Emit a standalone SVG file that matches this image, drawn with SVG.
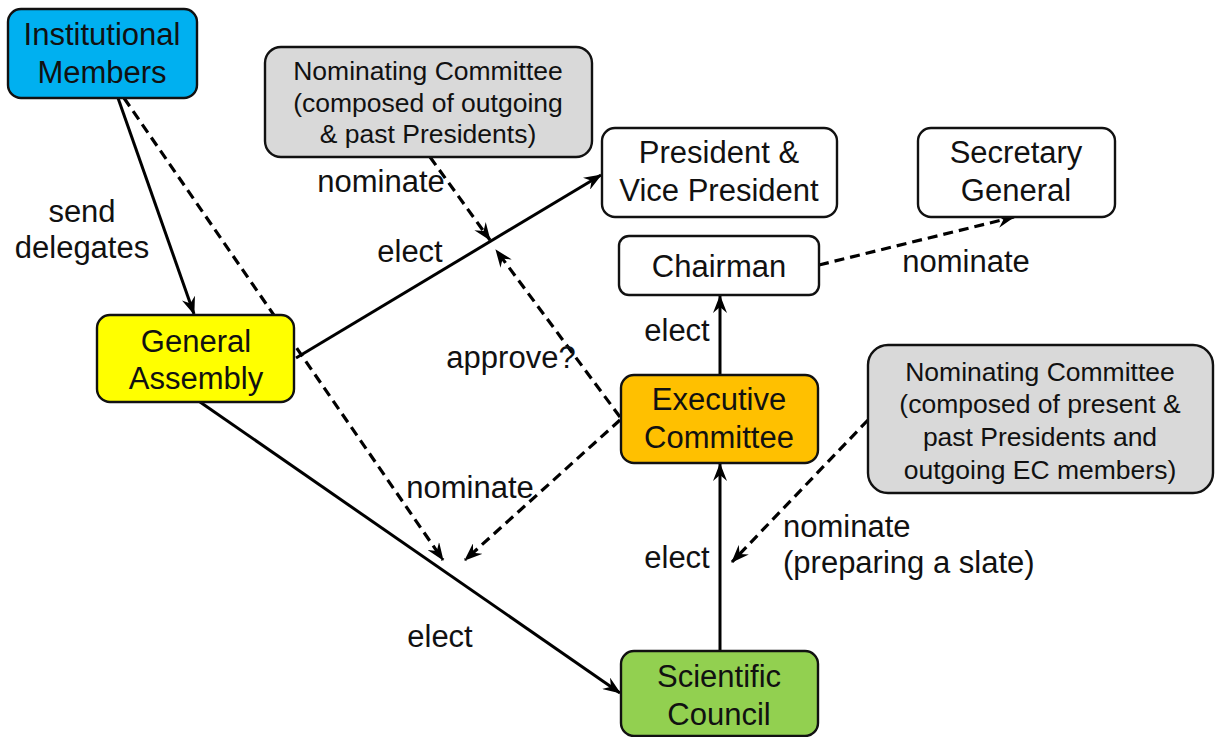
<svg xmlns="http://www.w3.org/2000/svg" width="1215" height="737" viewBox="0 0 1215 737">
<style>
  text { font-family: "Liberation Sans", Arial, sans-serif; fill: #111; }
  .big { font-size: 31px; text-anchor: middle; }
  .small { font-size: 26.5px; text-anchor: middle; }
  .lbl { font-size: 31px; }
  .box { stroke: #111; stroke-width: 2.4; }
  .ln { stroke: #000; stroke-width: 3; fill: none; marker-end: url(#ah); }
  .dash { stroke-dasharray: 10 6; stroke-width: 3.2; }
</style>
<defs>
  <marker id="ah" viewBox="0 0 18 14" markerWidth="18" markerHeight="14" refX="17" refY="7" orient="auto" markerUnits="userSpaceOnUse">
    <path d="M0,0 L18,7 L0,14 L6,7 z" fill="#000"/>
  </marker>
</defs>
<rect width="1215" height="737" fill="#fff"/>
<g id="connectors">
  <line class="ln" x1="118" y1="98" x2="194" y2="314"/>
  <line class="ln dash" x1="124" y1="98" x2="443" y2="560"/>
  <line class="ln" x1="296" y1="358" x2="601" y2="175"/>
  <line class="ln dash" x1="430" y1="157" x2="490" y2="240"/>
  <line class="ln dash" x1="620" y1="417" x2="496" y2="250"/>
  <line class="ln dash" x1="620" y1="420" x2="465" y2="560"/>
  <line class="ln" x1="200" y1="402" x2="620" y2="693"/>
  <line class="ln" x1="720" y1="651" x2="720" y2="464"/>
  <line class="ln" x1="720" y1="375" x2="720" y2="296"/>
  <line class="ln dash" x1="819" y1="265" x2="1014" y2="217"/>
  <line class="ln dash" x1="868" y1="420" x2="732" y2="562"/>
  <g id="labels">
    <text class="lbl" x="82" y="222" text-anchor="middle">send</text>
    <text class="lbl" x="82" y="258" text-anchor="middle">delegates</text>
    <text class="lbl" x="381" y="192" text-anchor="middle">nominate</text>
    <text class="lbl" x="410" y="262" text-anchor="middle">elect</text>
    <text class="lbl" x="677" y="341" text-anchor="middle">elect</text>
    <text class="lbl" x="966" y="272" text-anchor="middle">nominate</text>
    <text class="lbl" x="511" y="368" text-anchor="middle">approve?</text>
    <text class="lbl" x="470" y="498" text-anchor="middle">nominate</text>
    <text class="lbl" x="440" y="647" text-anchor="middle">elect</text>
    <text class="lbl" x="677" y="568" text-anchor="middle">elect</text>
    <text class="lbl" x="783" y="537">nominate</text>
    <text class="lbl" x="783" y="573">(preparing a slate)</text>
  </g>
</g>
<g id="institutional-members">
  <rect class="box" x="8" y="9" width="189" height="89" rx="13" fill="#00B0F0"/>
  <text class="big" x="102" y="45">Institutional</text>
  <text class="big" x="102" y="83">Members</text>
</g>
<g id="nominating-committee-1">
  <rect class="box" x="265" y="47" width="327" height="110" rx="16" fill="#D9D9D9"/>
  <text class="small" x="428" y="80">Nominating Committee</text>
  <text class="small" x="428" y="112">(composed of outgoing</text>
  <text class="small" x="428" y="143">&amp; past Presidents)</text>
</g>
<g id="president">
  <rect class="box" x="602" y="128" width="235" height="89" rx="13" fill="#fff"/>
  <text class="big" x="719" y="163">President &amp;</text>
  <text class="big" x="719" y="201">Vice President</text>
</g>
<g id="secretary-general">
  <rect class="box" x="918" y="128" width="197" height="89" rx="13" fill="#fff"/>
  <text class="big" x="1016" y="163">Secretary</text>
  <text class="big" x="1016" y="201">General</text>
</g>
<g id="chairman">
  <rect class="box" x="619" y="236" width="200" height="59" rx="10" fill="#fff"/>
  <text class="big" x="719" y="277">Chairman</text>
</g>
<g id="general-assembly">
  <rect class="box" x="97" y="315" width="197" height="87" rx="13" fill="#FFFF00"/>
  <text class="big" x="196" y="352">General</text>
  <text class="big" x="196" y="389">Assembly</text>
</g>
<g id="executive-committee">
  <rect class="box" x="621" y="375" width="197" height="88" rx="13" fill="#FFC000"/>
  <text class="big" x="719" y="410">Executive</text>
  <text class="big" x="719" y="448">Committee</text>
</g>
<g id="nominating-committee-2">
  <rect class="box" x="868" y="345" width="345" height="148" rx="20" fill="#D9D9D9"/>
  <text class="small" x="1040" y="381">Nominating Committee</text>
  <text class="small" x="1040" y="413">(composed of present &amp;</text>
  <text class="small" x="1040" y="446">past Presidents and</text>
  <text class="small" x="1040" y="479">outgoing EC members)</text>
</g>
<g id="scientific-council">
  <rect class="box" x="621" y="651" width="197" height="85" rx="13" fill="#92D050"/>
  <text class="big" x="719" y="687">Scientific</text>
  <text class="big" x="719" y="725">Council</text>
</g>
</svg>
